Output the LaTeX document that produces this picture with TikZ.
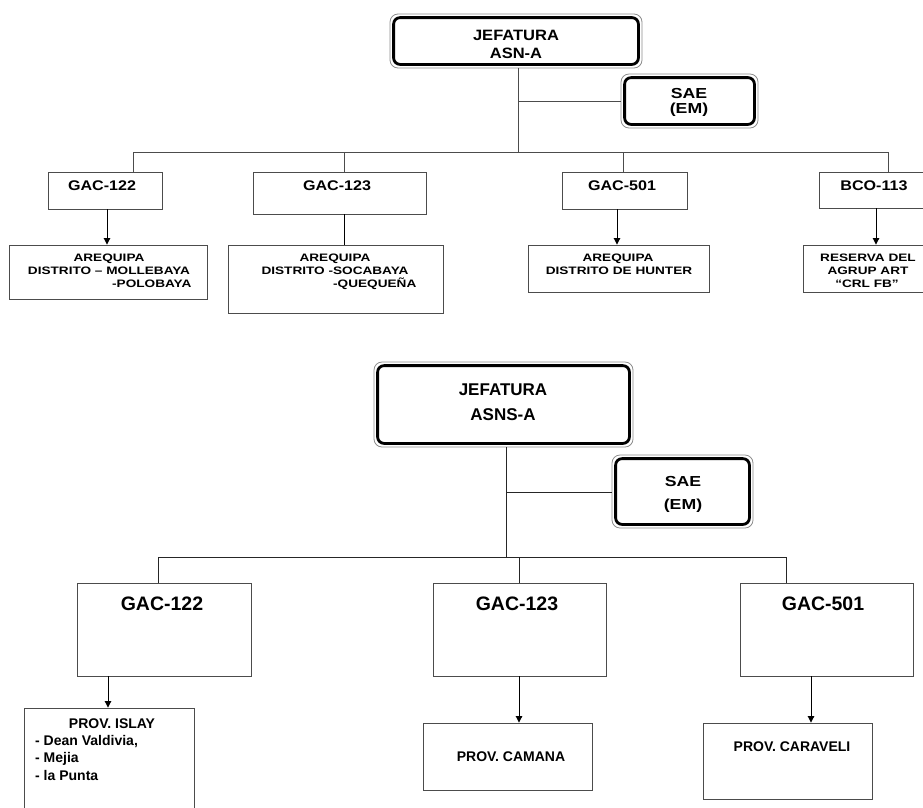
\documentclass[tikz,border=0pt]{standalone}
\usepackage{fontspec}
\setmainfont{Liberation Sans}
\newfontfamily\wfontA[FakeStretch=1.1]{Liberation Sans}
\newfontfamily\wfontB[FakeStretch=1.15]{Liberation Sans}
\newfontfamily\wfontC[FakeStretch=1.22]{Liberation Sans}
\newfontfamily\wfontD[FakeStretch=1.26]{Liberation Sans}
\usetikzlibrary{arrows.meta}
\begin{document}
\begin{tikzpicture}[x=1pt,y=-1pt,
  box/.style={draw=black!70, line width=0.9pt, rectangle, inner sep=0pt},
  rbox/.style={draw=black!45, line width=0.8pt, rectangle, rounded corners=8pt, inner sep=0pt},
  inbox/.style={draw=black, line width=2.8pt, rounded corners=6.5pt},
  conn/.style={draw=black!70, line width=0.9pt},
  arr/.style={draw=black, line width=0.9pt, -{Triangle[width=6.5pt,length=6.5pt]}},
  lbl/.style={anchor=base, inner sep=0pt},
  lblw/.style={anchor=base west, inner sep=0pt},
  tjef/.style={font=\wfontA\bfseries\fontsize{15}{17}\selectfont},
  tgac/.style={font=\wfontB\bfseries\fontsize{14}{17}\selectfont},
  tsae/.style={font=\wfontC\bfseries\fontsize{14.5}{17}\selectfont},
  tsml/.style={font=\wfontD\bfseries\fontsize{10.8}{13}\selectfont},
  bbig/.style={font=\bfseries\fontsize{17}{20}\selectfont},
  bsae/.style={font=\wfontC\bfseries\fontsize{14.5}{17}\selectfont},
  bgac/.style={font=\bfseries\fontsize{19.5}{22}\selectfont},
  bprov/.style={font=\bfseries\fontsize{14}{17}\selectfont}
]
\useasboundingbox (0,0) rectangle (923,807);
\clip (0,0) rectangle (923,807);

% ---------------- top chart ----------------
\node[rbox, minimum width=252pt, minimum height=54pt] (jefA) at (516,41) {};
\draw[inbox] ([shift={(4,4)}]jefA.north west) rectangle ([shift={(-4,-4)}]jefA.south east);
\node[rbox, minimum width=137pt, minimum height=54pt] (saeA) at (689.5,101) {};
\draw[inbox] ([shift={(4,4)}]saeA.north west) rectangle ([shift={(-4,-4)}]saeA.south east);

\node[box, minimum width=114pt, minimum height=37pt] (g122A) at (105,190.5) {};
\node[box, minimum width=173pt, minimum height=42pt] (g123A) at (339.5,193) {};
\node[box, minimum width=125pt, minimum height=37pt] (g501A) at (624.5,190.5) {};
\node[box, minimum width=121pt, minimum height=36pt] (bcoA) at (879.5,190) {};

\node[box, minimum width=198pt, minimum height=54pt] (a1) at (108,272) {};
\node[box, minimum width=215pt, minimum height=68pt] (a2) at (335.5,279) {};
\node[box, minimum width=181pt, minimum height=47pt] (a3) at (618.5,268.5) {};
\node[box, minimum width=137pt, minimum height=47pt] (a4) at (871.5,268.5) {};

\coordinate (bAm) at (518,152);
\coordinate (sA) at (518,101);
\coordinate (bA1) at (133,152);
\coordinate (bA2) at (344,152);
\coordinate (bA3) at (623,152);
\coordinate (bA4) at (888,152);
\coordinate (dA1) at (107,0);
\coordinate (dA2) at (344,0);
\coordinate (dA3) at (617,0);
\coordinate (dA4) at (876,0);

\draw[conn] (jefA.south -| bAm) -- (bAm);
\draw[conn] (sA) -- (sA -| saeA.west);
\draw[conn] (bA1) -- (bA4);
\draw[conn] (bA1) -- (bA1 |- g122A.north);
\draw[conn] (bA2) -- (bA2 |- g123A.north);
\draw[conn] (bA3) -- (bA3 |- g501A.north);
\draw[conn] (bA4) -- (bA4 |- bcoA.north);

\draw[arr] (g122A.south -| dA1) -- (a1.north -| dA1);
\draw[conn, draw=black] (g123A.south -| dA2) -- (a2.north -| dA2);
\draw[arr] (g501A.south -| dA3) -- (a3.north -| dA3);
\draw[arr] (bcoA.south -| dA4) -- (a4.north -| dA4);

\node[lbl, tjef] (tJA1) at (516,40.7) {JEFATURA};
\node[lbl, tjef] (tJA2) at (516,58) {ASN-A};
\node[lbl, tsae] (tSA1) at (689,98) {SAE};
\node[lbl, tsae] (tSA2) at (689,113) {(EM)};
\node[lbl, tgac] (tG1) at (102,190) {GAC-122};
\node[lbl, tgac] (tG2) at (337,190) {GAC-123};
\node[lbl, tgac] (tG3) at (622,190) {GAC-501};
\node[lbl, tgac] (tG4) at (874,190) {BCO-113};

\node[lbl, tsml] (ta11) at (109,261) {AREQUIPA};
\node[lbl, tsml] (ta12) at (109,274) {DISTRITO – MOLLEBAYA};
\node[lblw, tsml] (ta13) at (112,287) {-POLOBAYA};
\node[lbl, tsml] (ta21) at (335,261) {AREQUIPA};
\node[lbl, tsml] (ta22) at (335,274) {DISTRITO -SOCABAYA};
\node[lblw, tsml] (ta23) at (333,287) {-QUEQUEÑA};
\node[lbl, tsml] (ta31) at (618,261) {AREQUIPA};
\node[lbl, tsml] (ta32) at (619,274) {DISTRITO DE HUNTER};
\node[lbl, tsml] (ta41) at (868,261) {RESERVA DEL};
\node[lbl, tsml] (ta42) at (868,274) {AGRUP ART};
\node[lbl, tsml] (ta43) at (867,287) {“CRL FB”};

% ---------------- bottom chart ----------------
\node[rbox, minimum width=259pt, minimum height=85pt] (jefB) at (503.5,404.5) {};
\draw[inbox] ([shift={(4,4)}]jefB.north west) rectangle ([shift={(-4,-4)}]jefB.south east);
\node[rbox, minimum width=141pt, minimum height=73pt] (saeB) at (682.5,491.5) {};
\draw[inbox] ([shift={(4,4)}]saeB.north west) rectangle ([shift={(-4,-4)}]saeB.south east);

\node[box, minimum width=174pt, minimum height=93pt] (g122B) at (164,629.5) {};
\node[box, minimum width=173pt, minimum height=93pt] (g123B) at (519.5,629.5) {};
\node[box, minimum width=173pt, minimum height=93pt] (g501B) at (826.5,629.5) {};

\node[box, minimum width=170pt, minimum height=122pt] (pI) at (109,769) {};
\node[box, minimum width=169pt, minimum height=67pt] (pCam) at (507.5,756.5) {};
\node[box, minimum width=169pt, minimum height=76pt] (pCar) at (787.5,761) {};

\coordinate (bBm) at (506,557);
\coordinate (sB) at (506,492);
\coordinate (bB1) at (158,557);
\coordinate (bB2) at (519,557);
\coordinate (bB3) at (786,557);
\coordinate (dB1) at (108,0);
\coordinate (dB2) at (519,0);
\coordinate (dB3) at (811,0);

\draw[conn, draw=black!85] (jefB.south -| bBm) -- (bBm);
\draw[conn, draw=black!85] (sB) -- (sB -| saeB.west);
\draw[conn, draw=black!85] (bB1) -- (bB3);
\draw[conn, draw=black!85] (bB1) -- (bB1 |- g122B.north);
\draw[conn, draw=black!85] (bB2) -- (bB2 |- g123B.north);
\draw[conn, draw=black!85] (bB3) -- (bB3 |- g501B.north);

\draw[arr] (g122B.south -| dB1) -- (pI.north -| dB1);
\draw[arr] (g123B.south -| dB2) -- (pCam.north -| dB2);
\draw[arr] (g501B.south -| dB3) -- (pCar.north -| dB3);

\node[lbl, bbig] (tJB1) at (503,395.5) {JEFATURA};
\node[lbl, bbig] (tJB2) at (503,420.5) {ASNS-A};
\node[lbl, bsae] (tSB1) at (683,486.5) {SAE};
\node[lbl, bsae] (tSB2) at (683,509) {(EM)};
\node[lbl, bgac] (tGB1) at (162,610) {GAC-122};
\node[lbl, bgac] (tGB2) at (517,610) {GAC-123};
\node[lbl, bgac] (tGB3) at (823,610) {GAC-501};

\node[lbl, bprov] (tp1) at (112,728) {PROV. ISLAY};
\node[lblw, bprov] (tp2) at (35,745) {- Dean Valdivia,};
\node[lblw, bprov] (tp3) at (35,762.5) {- Mejia};
\node[lblw, bprov] (tp4) at (35,780) {- la Punta};
\node[lbl, bprov] (tp5) at (511,761.7) {PROV. CAMANA};
\node[lbl, bprov] (tp6) at (792,751.7) {PROV. CARAVELI};
\end{tikzpicture}
\end{document}
